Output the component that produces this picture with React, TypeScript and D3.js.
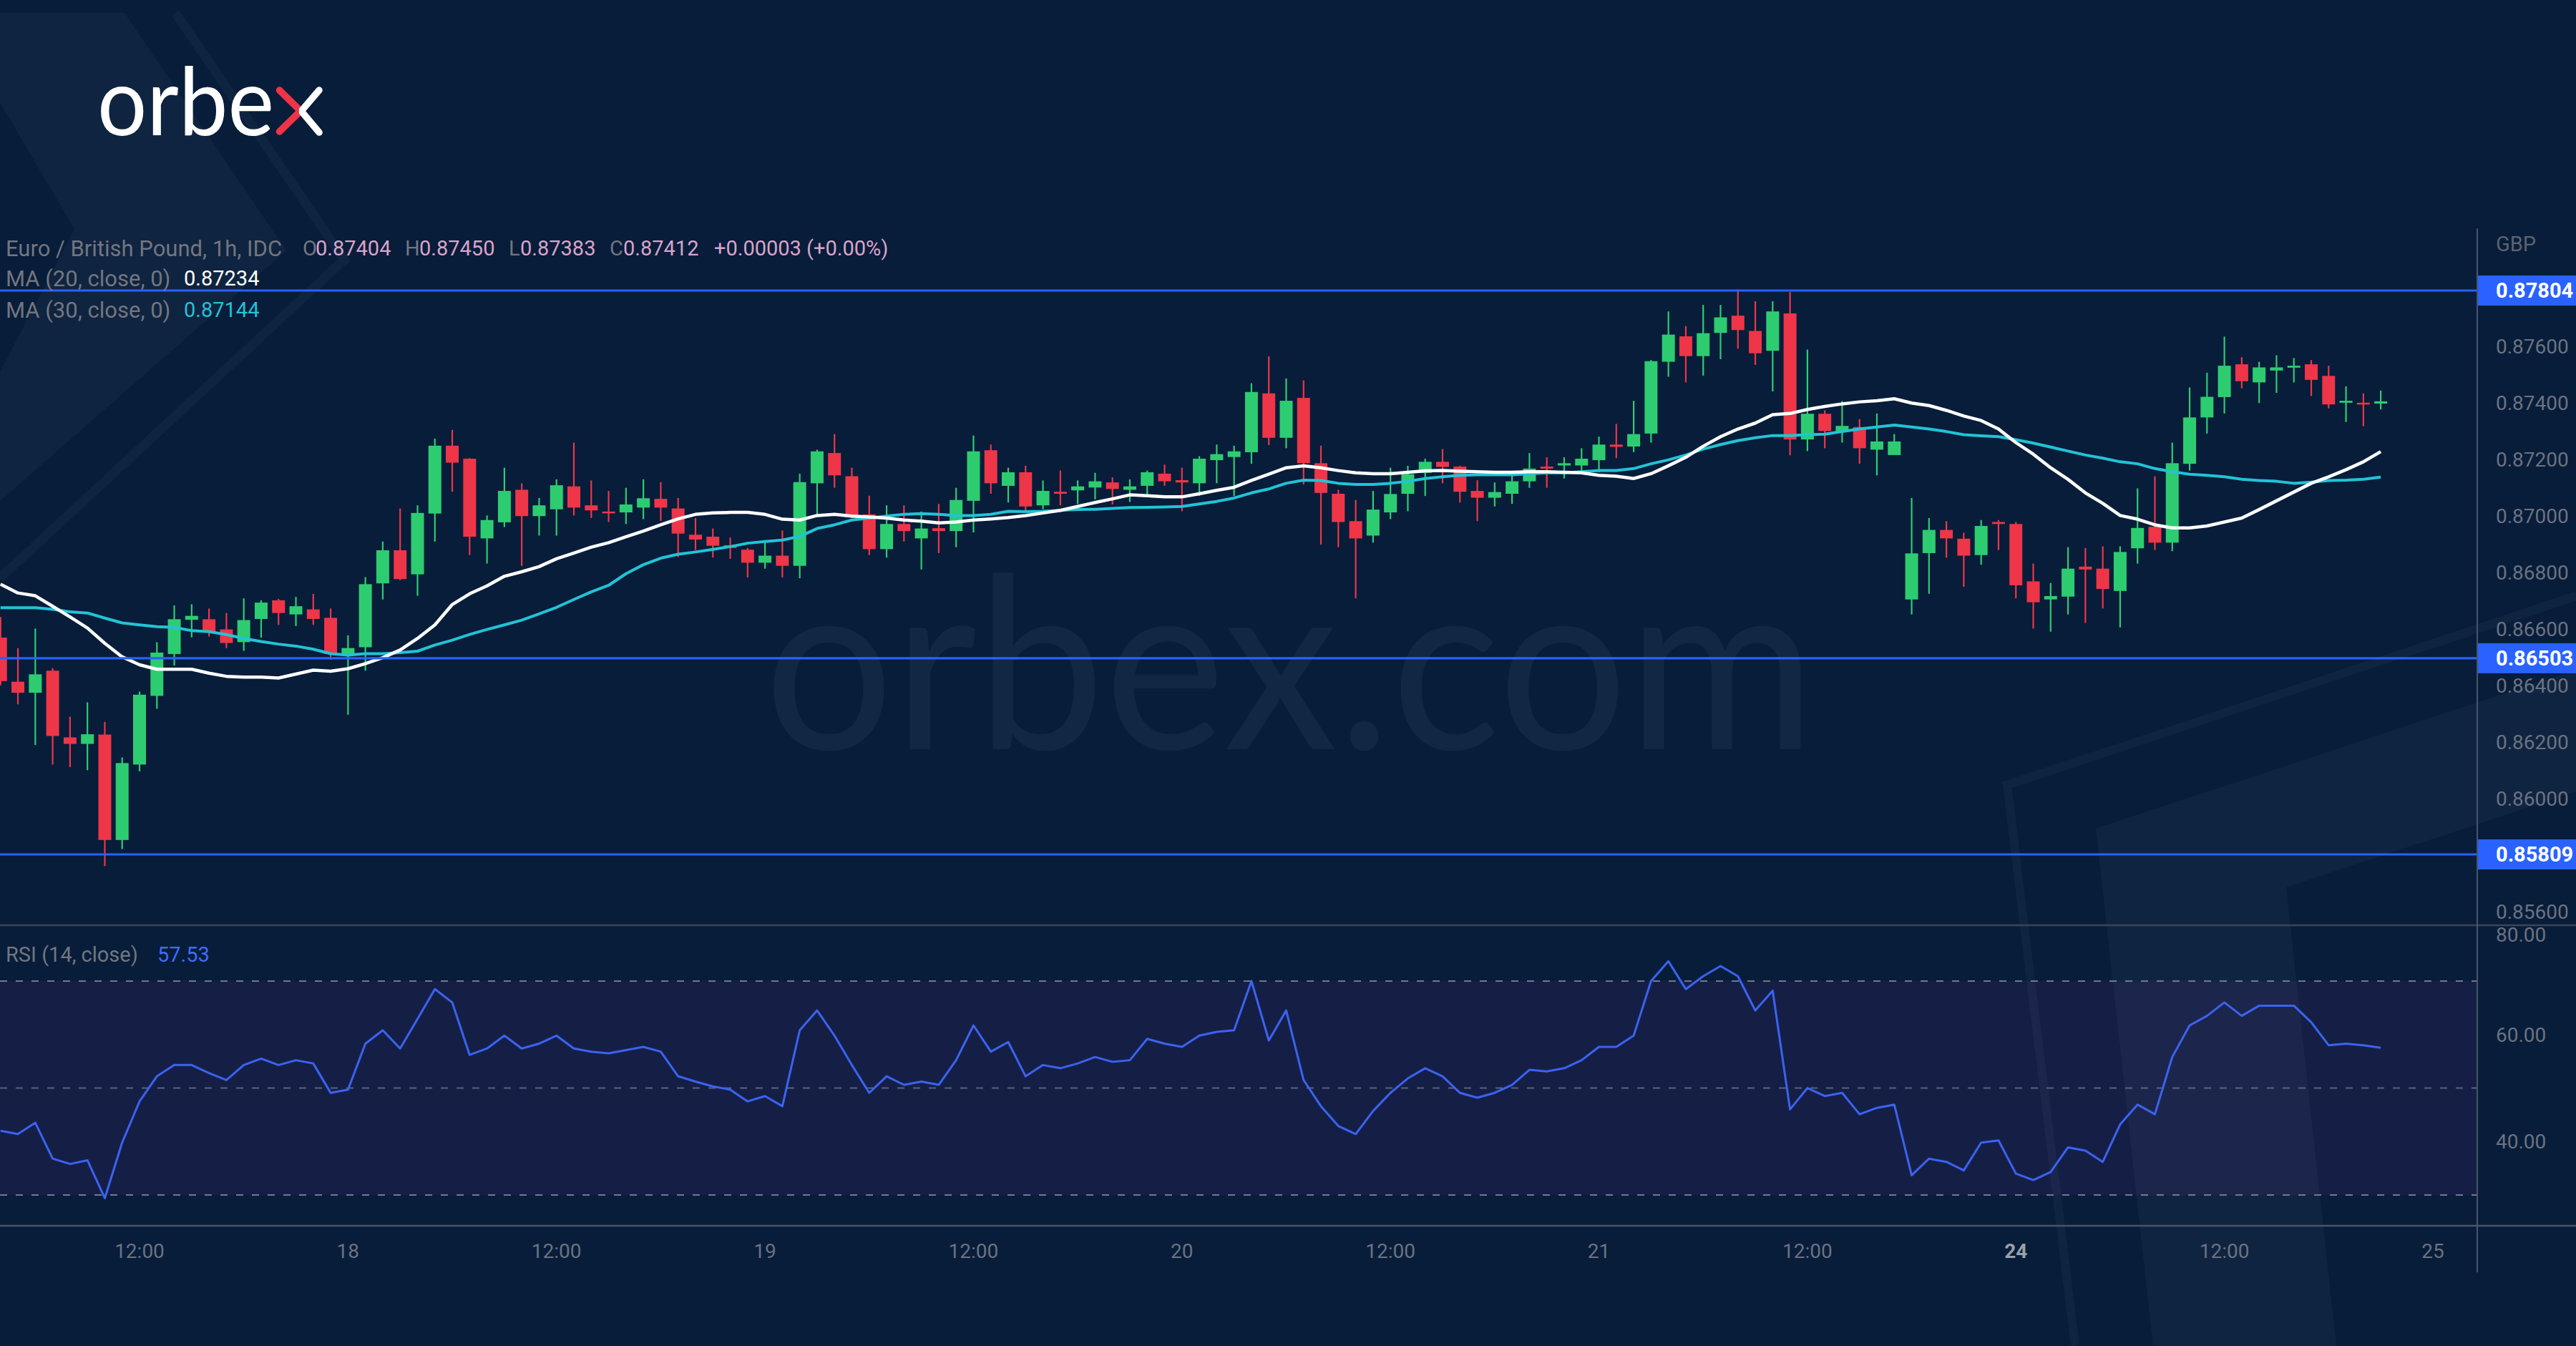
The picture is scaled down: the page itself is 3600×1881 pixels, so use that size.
import React from 'react';
import * as d3 from 'd3';

const W = 3600;
const H = 1881;

// ---- EUR/GBP 1h candles (17th 04:00 .. 24th 21:00) ----
const opens = [
  0.86576, 0.86420, 0.86381, 0.86459, 0.86223, 0.86200, 0.86233, 0.85860, 0.86127, 0.86370,
  0.86518, 0.86639, 0.86641, 0.86605, 0.86560, 0.86642, 0.86708, 0.86658, 0.86676, 0.86646,
  0.86512, 0.86542, 0.86768, 0.86885, 0.86800, 0.87015, 0.87255, 0.87209, 0.86927, 0.86984,
  0.87099, 0.87006, 0.87030, 0.87111, 0.87044, 0.87022, 0.87019, 0.87036, 0.87067, 0.87033,
  0.86940, 0.86933, 0.86903, 0.86887, 0.86841, 0.86866, 0.86830, 0.87122, 0.87229, 0.87147,
  0.87012, 0.86889, 0.86978, 0.86927, 0.86963, 0.86953, 0.87060, 0.87239, 0.87113, 0.87161,
  0.87044, 0.87092, 0.87097, 0.87107, 0.87125, 0.87099, 0.87113, 0.87156, 0.87133, 0.87122,
  0.87204, 0.87215, 0.87232, 0.87440, 0.87283, 0.87424, 0.87193, 0.87085, 0.86988, 0.86937,
  0.87019, 0.87085, 0.87159, 0.87198, 0.87181, 0.87095, 0.87071, 0.87085, 0.87129, 0.87181,
  0.87185, 0.87185, 0.87204, 0.87259, 0.87252, 0.87298, 0.87552, 0.87642, 0.87572, 0.87654,
  0.87715, 0.87661, 0.87591, 0.87723, 0.87277, 0.87368, 0.87305, 0.87321, 0.87241, 0.87222,
  0.86711, 0.86875, 0.86957, 0.86926, 0.86868, 0.86985, 0.86978, 0.86775, 0.86711, 0.86721,
  0.86827, 0.86820, 0.86741, 0.86892, 0.86968, 0.86912, 0.87191, 0.87355, 0.87427, 0.87543,
  0.87479, 0.87521, 0.87531, 0.87543, 0.87502, 0.87407, 0.87407, 0.87404,
];
const highs = [
  0.86649, 0.86539, 0.86608, 0.86468, 0.86296, 0.86347, 0.86278, 0.86152, 0.86385, 0.86560,
  0.86690, 0.86694, 0.86679, 0.86663, 0.86715, 0.86708, 0.86713, 0.86720, 0.86731, 0.86679,
  0.86584, 0.86790, 0.86916, 0.87033, 0.87044, 0.87280, 0.87311, 0.87211, 0.87008, 0.87177,
  0.87122, 0.87070, 0.87136, 0.87266, 0.87132, 0.87095, 0.87106, 0.87136, 0.87126, 0.87070,
  0.86999, 0.86962, 0.86930, 0.86893, 0.86916, 0.86955, 0.87156, 0.87241, 0.87296, 0.87177,
  0.87078, 0.87044, 0.87044, 0.87022, 0.87049, 0.87106, 0.87291, 0.87259, 0.87177, 0.87184,
  0.87132, 0.87167, 0.87132, 0.87159, 0.87143, 0.87136, 0.87167, 0.87188, 0.87177, 0.87218,
  0.87259, 0.87255, 0.87476, 0.87571, 0.87493, 0.87486, 0.87255, 0.87099, 0.87063, 0.87095,
  0.87177, 0.87184, 0.87209, 0.87243, 0.87184, 0.87133, 0.87125, 0.87163, 0.87229, 0.87214,
  0.87214, 0.87246, 0.87287, 0.87332, 0.87414, 0.87558, 0.87730, 0.87678, 0.87753, 0.87753,
  0.87808, 0.87766, 0.87766, 0.87799, 0.87595, 0.87380, 0.87413, 0.87349, 0.87369, 0.87296,
  0.87070, 0.86999, 0.86988, 0.86947, 0.86992, 0.86992, 0.86985, 0.86838, 0.86769, 0.86896,
  0.86893, 0.86899, 0.86899, 0.87104, 0.87147, 0.87266, 0.87461, 0.87513, 0.87641, 0.87568,
  0.87552, 0.87575, 0.87565, 0.87558, 0.87538, 0.87465, 0.87440, 0.87450,
];
const lows = [
  0.86408, 0.86340, 0.86196, 0.86127, 0.86118, 0.86107, 0.85768, 0.85828, 0.86103, 0.86324,
  0.86477, 0.86577, 0.86580, 0.86539, 0.86529, 0.86576, 0.86621, 0.86617, 0.86621, 0.86498,
  0.86303, 0.86459, 0.86711, 0.86779, 0.86724, 0.86916, 0.87092, 0.86868, 0.86838, 0.86967,
  0.86830, 0.86937, 0.86937, 0.87008, 0.86999, 0.86985, 0.86978, 0.86995, 0.86989, 0.86861,
  0.86886, 0.86859, 0.86855, 0.86789, 0.86820, 0.86789, 0.86786, 0.87003, 0.87106, 0.86999,
  0.86868, 0.86859, 0.86916, 0.86817, 0.86875, 0.86896, 0.86948, 0.87085, 0.87054, 0.87019,
  0.87030, 0.87044, 0.87049, 0.87065, 0.87047, 0.87056, 0.87077, 0.87113, 0.87023, 0.87078,
  0.87122, 0.87077, 0.87191, 0.87257, 0.87246, 0.87118, 0.86905, 0.86896, 0.86715, 0.86912,
  0.86995, 0.87023, 0.87077, 0.87122, 0.87054, 0.86988, 0.87040, 0.87049, 0.87106, 0.87106,
  0.87139, 0.87161, 0.87161, 0.87211, 0.87232, 0.87266, 0.87499, 0.87479, 0.87503, 0.87561,
  0.87598, 0.87541, 0.87447, 0.87221, 0.87236, 0.87246, 0.87266, 0.87191, 0.87150, 0.87222,
  0.86658, 0.86731, 0.86859, 0.86756, 0.86834, 0.86886, 0.86715, 0.86608, 0.86597, 0.86658,
  0.86628, 0.86679, 0.86612, 0.86838, 0.86886, 0.86882, 0.87167, 0.87298, 0.87369, 0.87458,
  0.87406, 0.87442, 0.87479, 0.87431, 0.87387, 0.87339, 0.87324, 0.87383,
];
const closes = [
  0.86422, 0.86381, 0.86446, 0.86228, 0.86200, 0.86234, 0.85860, 0.86132, 0.86374, 0.86523,
  0.86641, 0.86653, 0.86597, 0.86557, 0.86638, 0.86700, 0.86663, 0.86687, 0.86642, 0.86518,
  0.86539, 0.86765, 0.86885, 0.86783, 0.87017, 0.87255, 0.87195, 0.86933, 0.86992, 0.87095,
  0.87006, 0.87044, 0.87115, 0.87036, 0.87026, 0.87019, 0.87047, 0.87069, 0.87036, 0.86944,
  0.86923, 0.86901, 0.86893, 0.86841, 0.86866, 0.86830, 0.87126, 0.87235, 0.87150, 0.87003,
  0.86889, 0.86978, 0.86953, 0.86962, 0.86953, 0.87063, 0.87235, 0.87122, 0.87161, 0.87040,
  0.87095, 0.87085, 0.87111, 0.87129, 0.87102, 0.87111, 0.87161, 0.87129, 0.87125, 0.87209,
  0.87225, 0.87235, 0.87445, 0.87283, 0.87414, 0.87193, 0.87088, 0.86985, 0.86927, 0.87029,
  0.87084, 0.87154, 0.87198, 0.87180, 0.87092, 0.87071, 0.87091, 0.87129, 0.87174, 0.87174,
  0.87193, 0.87209, 0.87259, 0.87251, 0.87296, 0.87554, 0.87648, 0.87572, 0.87653, 0.87709,
  0.87664, 0.87582, 0.87730, 0.87277, 0.87368, 0.87307, 0.87325, 0.87246, 0.87270, 0.87270,
  0.86874, 0.86957, 0.86927, 0.86866, 0.86971, 0.86978, 0.86761, 0.86701, 0.86723, 0.86820,
  0.86817, 0.86748, 0.86879, 0.86964, 0.86912, 0.87193, 0.87355, 0.87428, 0.87538, 0.87483,
  0.87532, 0.87532, 0.87538, 0.87488, 0.87401, 0.87414, 0.87401, 0.87412,
];

// ---- Moving averages as drawn on the chart ----
const ma20 = [
  0.86765, 0.86734, 0.86724, 0.86687, 0.86649, 0.86610, 0.86556, 0.86508, 0.86480, 0.86464,
  0.86464, 0.86464, 0.86450, 0.86439, 0.86436, 0.86436, 0.86433, 0.86447, 0.86461, 0.86457,
  0.86466, 0.86484, 0.86505, 0.86532, 0.86573, 0.86621, 0.86693, 0.86731, 0.86759, 0.86793,
  0.86809, 0.86827, 0.86855, 0.86875, 0.86896, 0.86912, 0.86933, 0.86953, 0.86975, 0.86996,
  0.87012, 0.87017, 0.87019, 0.87019, 0.87012, 0.86995, 0.86992, 0.87008, 0.87012, 0.87006,
  0.87003, 0.86999, 0.86992, 0.86988, 0.86982, 0.86985, 0.86992, 0.86996, 0.87001, 0.87008,
  0.87017, 0.87026, 0.87040, 0.87054, 0.87067, 0.87081, 0.87078, 0.87074, 0.87074, 0.87085,
  0.87097, 0.87108, 0.87132, 0.87154, 0.87177, 0.87184, 0.87177, 0.87167, 0.87159, 0.87156,
  0.87156, 0.87161, 0.87166, 0.87167, 0.87165, 0.87163, 0.87161, 0.87161, 0.87163, 0.87163,
  0.87161, 0.87159, 0.87150, 0.87147, 0.87139, 0.87156, 0.87184, 0.87214, 0.87253, 0.87287,
  0.87314, 0.87335, 0.87365, 0.87369, 0.87383, 0.87394, 0.87403, 0.87410, 0.87414, 0.87421,
  0.87406, 0.87397, 0.87380, 0.87360, 0.87344, 0.87314, 0.87266, 0.87225, 0.87177, 0.87136,
  0.87088, 0.87051, 0.87008, 0.86995, 0.86975, 0.86964, 0.86964, 0.86971, 0.86985, 0.86999,
  0.87029, 0.87060, 0.87091, 0.87122, 0.87145, 0.87170, 0.87198, 0.87234,
];
const ma30 = [
  0.86682, 0.86682, 0.86682, 0.86676, 0.86667, 0.86663, 0.86645, 0.86628, 0.86621, 0.86615,
  0.86612, 0.86601, 0.86597, 0.86587, 0.86573, 0.86562, 0.86553, 0.86546, 0.86535, 0.86519,
  0.86514, 0.86519, 0.86519, 0.86523, 0.86528, 0.86550, 0.86567, 0.86587, 0.86605, 0.86621,
  0.86638, 0.86660, 0.86683, 0.86711, 0.86738, 0.86761, 0.86802, 0.86834, 0.86857, 0.86871,
  0.86879, 0.86888, 0.86898, 0.86910, 0.86916, 0.86921, 0.86934, 0.86962, 0.86975, 0.86992,
  0.86999, 0.87006, 0.87012, 0.87015, 0.87012, 0.87008, 0.87008, 0.87012, 0.87023, 0.87022,
  0.87023, 0.87026, 0.87029, 0.87030, 0.87033, 0.87036, 0.87037, 0.87038, 0.87040, 0.87049,
  0.87058, 0.87070, 0.87088, 0.87102, 0.87122, 0.87133, 0.87132, 0.87122, 0.87118, 0.87118,
  0.87122, 0.87129, 0.87139, 0.87145, 0.87150, 0.87152, 0.87152, 0.87152, 0.87156, 0.87159,
  0.87159, 0.87163, 0.87167, 0.87167, 0.87174, 0.87191, 0.87205, 0.87222, 0.87243, 0.87259,
  0.87273, 0.87283, 0.87291, 0.87291, 0.87294, 0.87296, 0.87305, 0.87314, 0.87321, 0.87328,
  0.87321, 0.87314, 0.87305, 0.87294, 0.87290, 0.87287, 0.87276, 0.87264, 0.87250, 0.87236,
  0.87222, 0.87211, 0.87198, 0.87191, 0.87174, 0.87163, 0.87154, 0.87150, 0.87145, 0.87136,
  0.87132, 0.87129, 0.87122, 0.87126, 0.87132, 0.87133, 0.87136, 0.87144,
];

// ---- RSI (14, close) ----
const rsi = [
  42.0, 41.4, 43.5, 36.8, 35.8, 36.5, 29.4, 39.8, 47.5, 52.2,
  54.3, 54.3, 52.8, 51.5, 54.3, 55.5, 54.3, 55.2, 54.6, 49.1,
  49.7, 58.3, 60.8, 57.4, 62.9, 68.5, 66.0, 56.2, 57.4, 59.8,
  57.4, 58.3, 59.8, 57.4, 56.8, 56.5, 57.1, 57.7, 56.8, 52.2,
  51.2, 50.3, 49.7, 47.5, 48.5, 46.6, 60.8, 64.5, 59.8, 54.3,
  49.1, 52.2, 50.6, 51.2, 50.6, 55.2, 61.7, 56.8, 58.6, 52.2,
  54.3, 53.7, 54.6, 55.8, 54.9, 55.2, 59.2, 58.3, 57.7, 59.8,
  60.5, 60.8, 70.0, 58.9, 64.5, 51.5, 46.6, 42.9, 41.4, 45.7,
  49.1, 51.8, 53.7, 52.2, 49.1, 48.2, 49.1, 50.6, 53.4, 53.1,
  53.7, 55.2, 57.7, 57.7, 59.8, 70.0, 73.7, 68.5, 70.9, 72.8,
  70.9, 64.5, 68.2, 46.0, 50.0, 48.5, 49.1, 45.1, 46.3, 46.9,
  33.7, 36.8, 36.2, 34.6, 39.8, 40.2, 34.0, 32.8, 34.3, 38.9,
  38.3, 36.2, 43.2, 46.9, 45.1, 55.8, 61.7, 63.5, 66.0, 63.5,
  65.4, 65.4, 65.4, 62.3, 58.0, 58.3, 58.0, 57.53,
];

// ---- axes ----
const timeTickIndex = [8, 20, 32, 44, 56, 68, 80, 92, 104, 116, 128, 140];
const timeTickLabels = ['12:00', '18', '12:00', '19', '12:00', '20', '12:00', '21', '12:00', '24', '12:00', '25'];
const priceTickValues = [0.856, 0.858, 0.86, 0.862, 0.864, 0.866, 0.868, 0.87, 0.872, 0.874, 0.876, 0.878];
const priceTickLabels = ['0.85600', '0.85800', '0.86000', '0.86200', '0.86400', '0.86600', '0.86800', '0.87000', '0.87200', '0.87400', '0.87600', '0.87800'];
const levelValues = [0.87804, 0.86503, 0.85809];
const levelLabels = ['0.87804', '0.86503', '0.85809'];
const rsiTickValues = [40, 60, 80];
const rsiTickLabels = ['40.00', '60.00', '80.00'];
const rsiBandValues = [70, 50, 30];

// legend texts
const legendTitle = 'Euro / British Pound, 1h, IDC';
const ohlcKeys = ['O', 'H', 'L', 'C'];
const ohlcValues = ['0.87404', '0.87450', '0.87383', '0.87412'];
const changeText = '+0.00003 (+0.00%)';

export default function App() {
  const PANE_R = 3462;
  const P_TOP = 319;
  const P_BOT = 1293;
  const R_BOT = 1713;

  const x = d3.scaleLinear().domain([0, 140]).range([0.76, 0.76 + 140 * 24.28]);
  const yP = d3.scaleLinear().domain([0.85809, 0.87804]).range([1194, 406]);
  const yR = d3.scaleLinear().domain([30, 70]).range([1670, 1371]);

  const lineP = d3.line<number>().x((_, i) => x(i)).y((d) => yP(d));
  const lineR = d3.line<number>().x((_, i) => x(i)).y((d) => yR(d));

  const green = '#2ecc71';
  const red = '#ef3548';
  const gray = '#6c7280';
  const legendGray = '#73767f';
  const pink = '#d8a4c9';
  const blue = '#2962ff';
  const bodyW = 18;

  const ohlcKeyX = [423, 566, 711, 852];
  const ohlcValX = [441, 586, 727, 871];

  return (
    <div style={{ position: 'absolute', left: 0, top: 0, width: W, height: H, overflow: 'hidden' }}>
      <svg width={W} height={H} style={{ display: 'block' }} fontFamily="Roboto, 'Noto Sans', sans-serif">
        <defs>
          <clipPath id="pricePane">
            <rect x={0} y={P_TOP} width={PANE_R} height={P_BOT - P_TOP} />
          </clipPath>
          <clipPath id="rsiPane">
            <rect x={0} y={P_BOT} width={PANE_R} height={R_BOT - P_BOT} />
          </clipPath>
          <clipPath id="rsiAxis">
            <rect x={PANE_R} y={P_BOT + 1} width={W - PANE_R} height={R_BOT - P_BOT - 1} />
          </clipPath>
        </defs>

        <rect x={0} y={0} width={W} height={H} fill="#071d3a" />

        {/* background decoration */}
        <polygon points="0,18 174,18 400,350 0,700 0,520 104,320 0,143" fill="#ffffff" opacity={0.035} />
        <polyline points="245,18 481,363 0,808" fill="none" stroke="#ffffff" strokeOpacity={0.035} strokeWidth={13} />
        <polygon points="3009,1881 2929,1158 3600,936 3600,1106 3195,1240 3265,1881" fill="#ffffff" opacity={0.035} />
        <polyline points="2900,1881 2805,1097 3600,833" fill="none" stroke="#ffffff" strokeOpacity={0.035} strokeWidth={12} />

        {/* watermark */}
        <text x={1068} y={1047} fontFamily="Lato, 'Open Sans', sans-serif" fontSize={335} fill="#ffffff" opacity={0.045}
          textLength={1469} lengthAdjust="spacingAndGlyphs">orbex.com</text>

        {/* logo */}
        <g aria-label="orbex">
          <text x={136} y={189} fontFamily="Lato, 'Open Sans', sans-serif" fontSize={132} fill="#ffffff"
            textLength={247} lengthAdjust="spacingAndGlyphs">orbe</text>
          <path d="M390.5,126 L420,155 L390.5,184" fill="none" stroke="#ee3446" strokeWidth={9.5} strokeLinecap="round" strokeLinejoin="round" />
          <path d="M446,126 L422.5,153.5 M422.5,157 L446,185" fill="none" stroke="#ffffff" strokeWidth={9.5} strokeLinecap="round" />
        </g>

        {/* RSI pane */}
        <g clipPath="url(#rsiPane)">
          <rect x={0} y={yR(70)} width={PANE_R} height={yR(30) - yR(70)} fill="rgb(150,50,180)" opacity={0.1} />
          {rsiBandValues.map((v, i) => (
            <line key={'b' + i} x1={0} x2={PANE_R} y1={yR(v)} y2={yR(v)} stroke="#8a90a0"
              strokeOpacity={i === 1 ? 0.6 : 0.8} strokeWidth={2} strokeDasharray="10 12" />
          ))}
          <path d={lineR(rsi) || ''} fill="none" stroke="#3b63f0" strokeWidth={3} strokeLinejoin="round" />
        </g>

        {/* price pane */}
        <g clipPath="url(#pricePane)">
          {opens.map((o, i) => {
            const c = closes[i];
            const up = c >= o;
            const col = up ? green : red;
            const top = yP(Math.max(o, c));
            const bot = yP(Math.min(o, c));
            const cx = x(i);
            return (
              <g key={'c' + i}>
                <line x1={cx} x2={cx} y1={yP(highs[i])} y2={yP(lows[i])} stroke={col} strokeWidth={2.2} />
                <rect x={cx - bodyW / 2} y={top} width={bodyW} height={Math.max(2.5, bot - top)} fill={col} />
              </g>
            );
          })}
          <path d={lineP(ma30) || ''} fill="none" stroke="#22c3d6" strokeWidth={4} strokeLinejoin="round" />
          <path d={lineP(ma20) || ''} fill="none" stroke="#ffffff" strokeWidth={4.5} strokeLinejoin="round" />
          {levelValues.map((v, i) => (
            <line key={'l' + i} x1={0} x2={PANE_R} y1={yP(v)} y2={yP(v)} stroke={blue} strokeWidth={3.2} />
          ))}
        </g>

        {/* separators and axis line */}
        <line x1={0} x2={W} y1={P_BOT} y2={P_BOT} stroke="#3a4658" strokeWidth={2.5} />
        <line x1={0} x2={W} y1={R_BOT} y2={R_BOT} stroke="#4a5466" strokeWidth={2.5} />
        <line x1={PANE_R} x2={PANE_R} y1={P_TOP} y2={1778} stroke="#4a5466" strokeWidth={2} />

        {/* price axis */}
        <text x={3488} y={341} dy="0.35em" fontSize={29} fill="#5c6370">GBP</text>
        {priceTickValues.map((v, i) => (
          <text key={'pt' + i} x={3488} y={yP(v) - 2} dy="0.35em" fontSize={28} fill={gray}>{priceTickLabels[i]}</text>
        ))}
        {levelValues.map((v, i) => (
          <g key={'lb' + i}>
            <rect x={PANE_R + 1} y={yP(v) - 21} width={W - PANE_R - 1} height={42} fill={blue} />
            <text x={3488} y={yP(v)} dy="0.35em" fontSize={29} fontWeight="bold" fill="#ffffff">{levelLabels[i]}</text>
          </g>
        ))}

        {/* RSI axis (80.00 label is cut by the pane top, as in the source) */}
        <g clipPath="url(#rsiAxis)">
          {rsiTickValues.map((v, i) => (
            <text key={'rt' + i} x={3488} y={v === 80 ? yR(v) + 10 : yR(v)} dy="0.35em" fontSize={28} fill={gray}>{rsiTickLabels[i]}</text>
          ))}
        </g>

        {/* time axis */}
        {timeTickIndex.map((k, i) => (
          <text key={'tt' + i} x={x(k)} y={1748} dy="0.35em" textAnchor="middle" fontSize={28}
            fill={timeTickLabels[i] === '24' ? '#9aa0ab' : gray} fontWeight={timeTickLabels[i] === '24' ? 'bold' : 'normal'}>
            {timeTickLabels[i]}
          </text>
        ))}

        {/* legends */}
        <g fontSize={29}>
          <text x={8} y={347} dy="0.35em" fill={legendGray} fontSize={31}>{legendTitle}</text>
          {ohlcKeys.map((k, i) => (
            <g key={'ok' + i}>
              <text x={ohlcKeyX[i]} y={347} dy="0.35em" fill={legendGray}>{k}</text>
              <text x={ohlcValX[i]} y={347} dy="0.35em" fill={pink}>{ohlcValues[i]}</text>
            </g>
          ))}
          <text x={998} y={347} dy="0.35em" fill={pink}>{changeText}</text>

          <text x={8} y={389} dy="0.35em" fill={legendGray} fontSize={31}>MA (20, close, 0)</text>
          <text x={257} y={389} dy="0.35em" fill="#ffffff">{ma20[ma20.length - 1].toFixed(5)}</text>
          <text x={8} y={433} dy="0.35em" fill={legendGray} fontSize={31}>MA (30, close, 0)</text>
          <text x={257} y={433} dy="0.35em" fill="#22c3d6">{ma30[ma30.length - 1].toFixed(5)}</text>

          <text x={8} y={1334} dy="0.35em" fill={legendGray}>RSI (14, close)</text>
          <text x={220} y={1334} dy="0.35em" fill="#3f6cf5">{rsi[rsi.length - 1].toFixed(2)}</text>
        </g>
      </svg>
    </div>
  );
}
